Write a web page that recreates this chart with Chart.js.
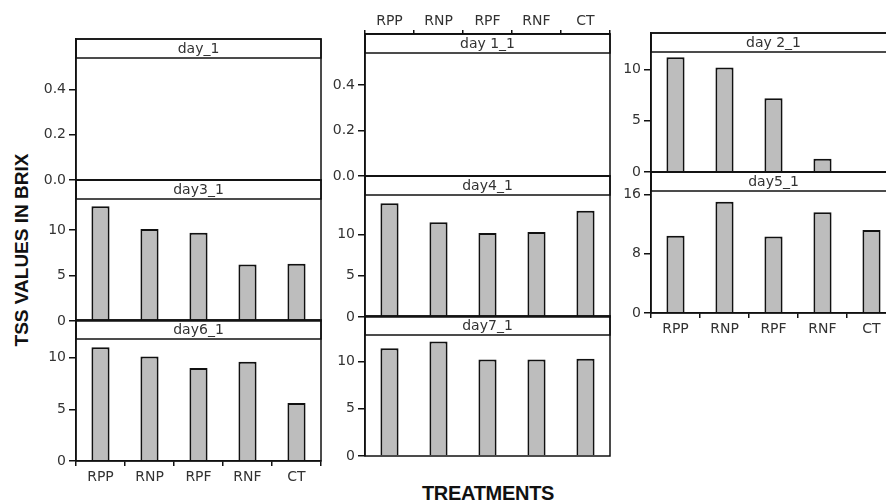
<!DOCTYPE html>
<html>
<head>
<meta charset="utf-8">
<script src="https://cdn.jsdelivr.net/npm/chart.js@4/dist/chart.umd.min.js"></script>
<style>
  body { margin: 0; width: 886px; height: 501px; overflow: hidden; background: #fff; position: relative; }
  .panel { position: absolute; }
  #ytitle { position: absolute; left: 22px; top: 250px; transform: translate(-50%, -50%) rotate(-90deg);
            font: bold 19px "Liberation Sans"; letter-spacing: 0px; white-space: nowrap; color: #111; }
  #xtitle { position: absolute; left: 488px; top: 493px; transform: translate(-50%, -50%);
            font: bold 20px "Liberation Sans"; letter-spacing: -0.3px; white-space: nowrap; color: #111; }
</style>
</head>
<body>
<div id="ytitle">TSS VALUES IN BRIX</div>
<div id="xtitle">TREATMENTS</div>
<script>
const treatments = ["RPP", "RNP", "RPF", "RNF", "CT"];

// TSS (brix) per treatment, one array per panel
const day_1  = [0, 0, 0, 0, 0];
const day3_1 = [12.6, 10.1, 9.7, 6.2, 6.3];
const day6_1 = [11.0, 10.1, 9.0, 9.6, 5.6];
const day1_1 = [0, 0, 0, 0, 0];
const day4_1 = [13.8, 11.5, 10.2, 10.3, 12.9];
const day7_1 = [11.4, 12.1, 10.2, 10.2, 10.3];
const day2_1 = [11.2, 10.2, 7.2, 1.3, 0];
const day5_1 = [10.4, 15.0, 10.3, 13.6, 11.2];

// panel boxes (strip top -> zero line) and y ranges
const panels = [
  { label: "day_1",   values: day_1,  left: 76,  right: 321, top: 39,  bottom: 180, max: 0.54, step: 0.2, dec: 1, xAxis: null },
  { label: "day3_1",  values: day3_1, left: 76,  right: 321, top: 180, bottom: 321, max: 13.4, step: 5,   dec: 0, xAxis: null },
  { label: "day6_1",  values: day6_1, left: 76,  right: 321, top: 320, bottom: 461, max: 11.8, step: 5,   dec: 0, xAxis: "bottom" },
  { label: "day 1_1", values: day1_1, left: 365, right: 610, top: 34,  bottom: 176, max: 0.54, step: 0.2, dec: 1, xAxis: "top" },
  { label: "day4_1",  values: day4_1, left: 365, right: 610, top: 176, bottom: 317, max: 14.8, step: 5,   dec: 0, xAxis: null },
  { label: "day7_1",  values: day7_1, left: 365, right: 610, top: 316, bottom: 456, max: 12.8, step: 5,   dec: 0, xAxis: null },
  { label: "day 2_1", values: day2_1, left: 651, right: 896, top: 33,  bottom: 172, max: 11.7, step: 5,   dec: 0, xAxis: null },
  { label: "day5_1",  values: day5_1, left: 651, right: 896, top: 172, bottom: 313, max: 16.45, step: 8,  dec: 0, xAxis: "bottom" }
];

const Y_W = 50, X_H = 28, STRIP = 19, PAD = 2, PAD_B = 10;

const stripPlugin = {
  id: "strip",
  afterDraw(chart, args, opts) {
    const { ctx, chartArea: a } = chart;
    ctx.save();
    ctx.lineWidth = 1.5;
    ctx.strokeStyle = "#111";
    ctx.strokeRect(a.left, a.top, a.right - a.left, STRIP);
    ctx.strokeRect(a.left, a.top, a.right - a.left, a.bottom - a.top);
    ctx.fillStyle = "#333";
    ctx.font = '14px "DejaVu Sans"';
    ctx.textAlign = "center";
    ctx.textBaseline = "middle";
    ctx.fillText(opts.text, (a.left + a.right) / 2, a.top + STRIP / 2 + 1);
    ctx.restore();
  }
};

panels.forEach(p => {
  const w = p.right - p.left;
  const h = p.bottom - p.top;
  const padB = p.xAxis === "bottom" ? PAD : PAD_B;
  const cw = Y_W + w + PAD;
  const ch = h + PAD + padB + (p.xAxis ? X_H : 0);

  const div = document.createElement("div");
  div.className = "panel";
  div.style.left = (p.left - Y_W) + "px";
  div.style.top = (p.top - PAD - (p.xAxis === "top" ? X_H : 0)) + "px";
  const canvas = document.createElement("canvas");
  canvas.width = cw;
  canvas.height = ch;
  canvas.style.width = cw + "px";
  canvas.style.height = ch + "px";
  div.appendChild(canvas);
  document.body.appendChild(div);

  // extend the y range so the strip sits inside the chart area
  const yMax = p.max * h / (h - STRIP);

  new Chart(canvas, {
    type: "bar",
    data: {
      labels: treatments,
      datasets: [{
        data: p.values,
        backgroundColor: "#bdbdbd",
        borderColor: "#111",
        borderWidth: 2,
        barPercentage: 0.37,
        categoryPercentage: 1
      }]
    },
    options: {
      responsive: false,
      animation: false,
      layout: { autoPadding: false, padding: { top: PAD, bottom: padB, right: PAD, left: 0 } },
      plugins: {
        legend: { display: false },
        tooltip: { enabled: false },
        strip: { text: p.label }
      },
      scales: {
        x: {
          display: !!p.xAxis,
          position: p.xAxis || "bottom",
          afterFit(scale) {
            scale.height = p.xAxis ? X_H : 0;
            scale.paddingLeft = scale.paddingRight = 0;
          },
          grid: { drawOnChartArea: false, drawTicks: true, tickLength: p.xAxis === "top" ? 4 : 5, color: "#111", lineWidth: 1.5 },
          border: { display: true, color: "#111", width: 1.5 },
          ticks: { color: "#333", font: { family: "DejaVu Sans", size: 14 }, padding: p.xAxis === "top" ? 0 : 3, maxRotation: 0 }
        },
        y: {
          min: 0,
          max: yMax,
          afterFit(scale) {
            scale.width = Y_W;
            scale.paddingTop = scale.paddingBottom = 0;
          },
          afterBuildTicks(scale) {
            scale.ticks = scale.ticks.filter(t => t.value <= p.max + 1e-6);
          },
          grid: { drawOnChartArea: false, drawTicks: true, tickLength: 7, color: "#111", lineWidth: 1.5 },
          border: { display: true, color: "#111", width: 1.5 },
          ticks: {
            stepSize: p.step,
            color: "#333",
            font: { family: "DejaVu Sans", size: 14 },
            padding: 3,
            callback: v => Number(v).toFixed(p.dec)
          }
        }
      }
    },
    plugins: [stripPlugin]
  });
});
</script>
</body>
</html>
